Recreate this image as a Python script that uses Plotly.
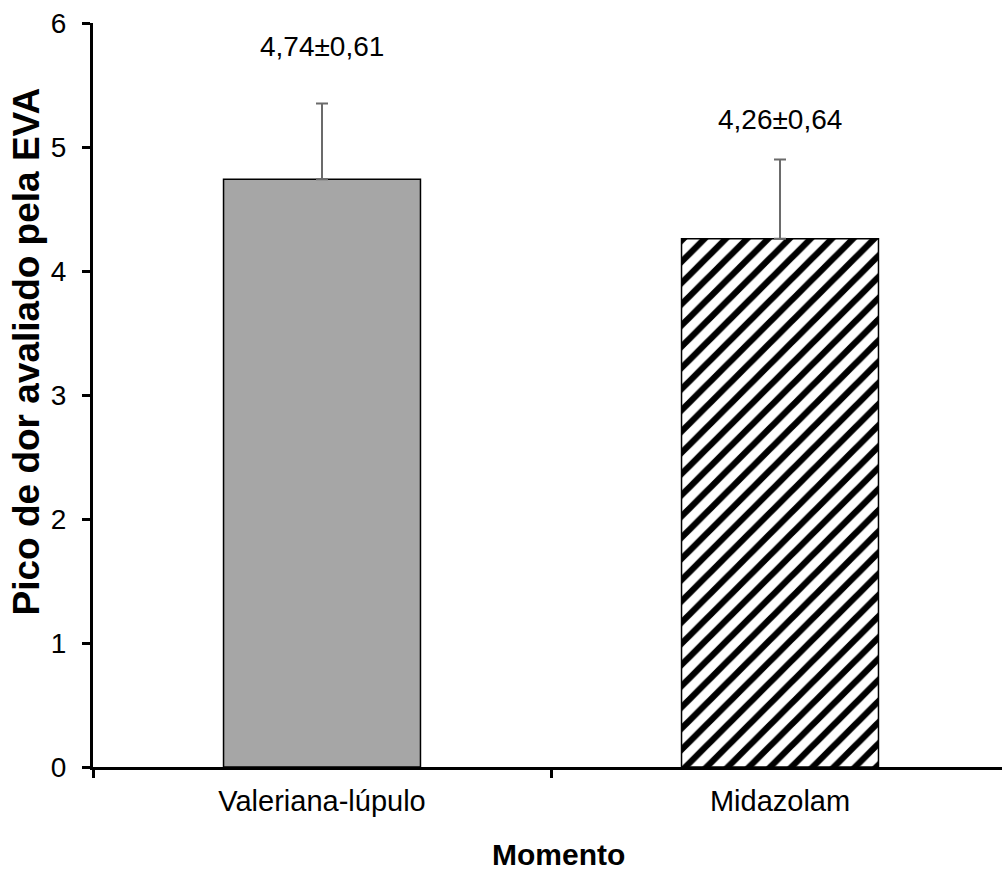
import plotly.graph_objects as go

# Peak pain (VAS) per group, mean and standard deviation
groups = ["Valeriana-lúpulo", "Midazolam"]
means = [4.74, 4.26]
sds = [0.61, 0.64]
labels = ["4,74±0,61", "4,26±0,64"]

y_ticks = [0, 1, 2, 3, 4, 5, 6]

font_family = "Liberation Sans, Arial, sans-serif"

# fill style per group: solid grey, then black diagonal hatching on white
fills = [
    dict(color="#a6a6a6", pattern=dict(shape="")),
    dict(color="white", pattern=dict(shape="/", fillmode="replace", fgcolor="black",
                                     bgcolor="white", fgopacity=1, size=15, solidity=0.42)),
]

fig = go.Figure()

for g, m, s, f in zip(groups, means, sds, fills):
    fig.add_trace(go.Bar(
        x=[g],
        y=[m],
        width=0.43,
        error_y=dict(type="data", array=[s], arrayminus=[0], symmetric=False, visible=True,
                     color="#6b6b6b", thickness=2, width=6),
        marker=dict(color=f["color"], line=dict(color="black", width=1.5),
                    pattern=f["pattern"]),
        showlegend=False,
    ))

# value labels above the bars
label_y = [5.81, 5.22]
for g, txt, yy in zip(groups, labels, label_y):
    fig.add_annotation(x=g, y=yy, text=txt, showarrow=False,
                       font=dict(family=font_family, size=28, color="black"),
                       xanchor="center", yanchor="middle")

# axis titles
fig.add_annotation(xref="paper", yref="paper", x=-0.073, y=0.558,
                   text="<b>Pico de dor avaliado pela EVA</b>", textangle=-90,
                   showarrow=False, xanchor="center", yanchor="middle",
                   font=dict(family=font_family, size=37, color="black"))
fig.add_annotation(xref="paper", yref="paper", x=0.512, y=-0.118,
                   text="<b>Momento</b>", showarrow=False,
                   xanchor="center", yanchor="middle",
                   font=dict(family=font_family, size=30, color="black"))

fig.update_layout(
    width=1002, height=872,
    margin=dict(l=93, r=0, t=23, b=105),
    plot_bgcolor="white", paper_bgcolor="white",
    font=dict(family=font_family, size=28, color="black"),
    barmode="overlay",
)

fig.update_xaxes(
    type="category",
    range=[-0.5, 1.4847],
    showline=True, linecolor="black", linewidth=3,
    ticks="outside", tickson="boundaries", ticklen=8, tickwidth=3, tickcolor="black",
    tickfont=dict(family=font_family, size=29, color="black"),
    ticklabelstandoff=6,
    showgrid=False, zeroline=False,
)

fig.update_yaxes(
    range=[0, 6],
    tickvals=y_ticks,
    ticktext=[str(v) for v in y_ticks],
    showline=True, linecolor="black", linewidth=3,
    ticks="outside", ticklen=8, tickwidth=3, tickcolor="black",
    tickfont=dict(family=font_family, size=28, color="black"),
    ticklabelstandoff=10,
    showgrid=False, zeroline=False,
)

fig.write_html("out.html")
